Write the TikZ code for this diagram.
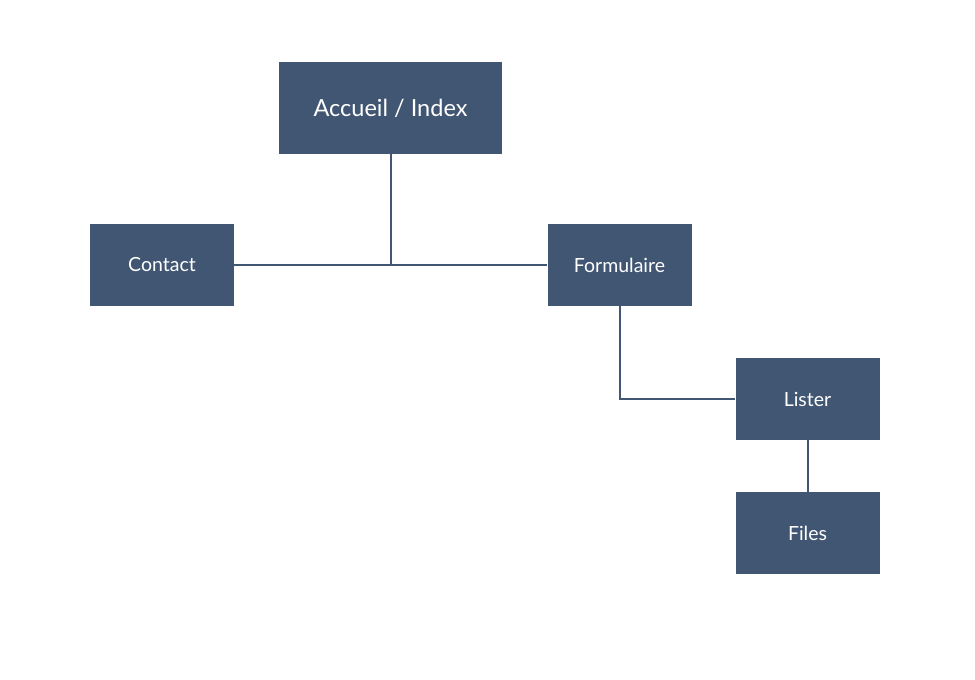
\documentclass[tikz,border=0pt]{standalone}
\usepackage{fontspec}
\setmainfont{Lato}
\definecolor{boxblue}{HTML}{415672}
\begin{document}
\begin{tikzpicture}[x=1pt,y=-1pt,
  box/.style={fill=boxblue,draw=none,text=white,minimum width=144pt,minimum height=82pt,inner sep=0pt,font=\fontsize{19.5}{22}\selectfont},
  conn/.style={draw=boxblue,line width=2pt}]
\useasboundingbox (0,0) rectangle (975,680);
\node[box,minimum width=223pt,minimum height=92pt,font=\fontsize{23.5}{26}\selectfont] (acc) at (390.5,108) {Accueil / Index};
\node[box] (contact) at (162,265) {Contact};
\node[box] (form) at (619.5,265) {Formulaire};
\node[box] (lister) at (807.5,399) {Lister};
\node[box] (files) at (807.5,533) {Files};
\coordinate (j) at (acc.south |- contact.east);
\draw[conn] (acc.south) -- (j);
\draw[conn] (contact.east) -- (form.west);
\draw[conn] (form.south) |- (lister.west);
\draw[conn] (lister.south) -- (files.north);
\end{tikzpicture}
\end{document}
